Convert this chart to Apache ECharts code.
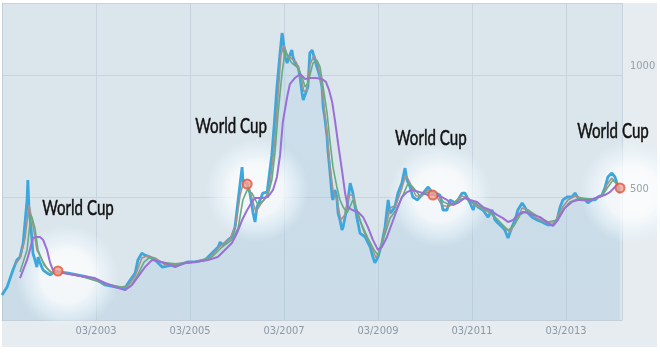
<!DOCTYPE html>
<html><head><meta charset="utf-8">
<script src="https://cdn.jsdelivr.net/npm/echarts@6/dist/echarts.min.js"></script>
<style>html,body{margin:0;padding:0;background:#fff}#c{width:660px;height:353px}</style>
</head><body><div id="c"></div>
<script>
// x values are months after 03/2001
const blueX = [0.0,1.3,2.8,3.8,4.6,5.4,6.4,6.6,6.9,7.4,7.9,8.4,8.9,9.2,9.7,10.5,11.5,12.3,13.0,14.3,16.6,19.2,21.7,24.3,26.3,28.9,31.4,32.2,34.0,34.7,35.7,36.5,37.8,39.1,40.9,43.4,44.9,47.5,49.3,51.8,52.6,55.2,55.7,56.4,57.7,58.7,59.5,60.3,61.3,61.5,62.0,62.6,63.3,64.1,64.6,65.1,65.9,66.6,67.7,68.4,68.9,69.5,70.2,71.0,71.5,71.7,72.3,72.8,73.0,74.0,74.3,74.8,75.6,76.1,76.6,76.9,77.4,78.1,78.6,79.2,79.7,80.4,81.2,81.7,82.0,82.5,83.0,83.2,83.7,84.3,84.5,85.0,85.5,85.8,86.3,86.8,87.1,88.1,88.9,89.4,89.6,90.6,91.4,92.7,94.0,94.7,95.2,96.0,97.0,97.8,98.6,99.1,99.8,100.3,101.1,102.1,102.9,103.4,104.2,104.9,106.0,106.7,107.5,108.8,109.8,110.6,111.8,112.6,113.6,114.4,115.7,116.4,117.5,118.2,118.7,119.5,120.3,120.8,121.5,122.8,124.1,125.1,125.9,126.6,127.7,128.4,129.2,130.2,131.0,131.7,132.8,133.5,134.3,135.3,136.6,137.9,139.4,140.7,141.7,142.5,143.2,144.3,145.5,146.3,147.1,148.1,148.9,149.6,150.6,151.4,152.2,153.2,154.0,154.7,155.7,156.5,157.0,157.3,157.8];
const blueY = [102,135,204,245,257,314,490,571,449,380,273,245,216,257,233,204,192,184,192,196,192,184,176,163,143,135,131,151,192,245,273,265,257,245,216,224,224,237,237,245,257,298,318,306,327,339,380,490,624,571,559,559,518,437,400,461,490,518,522,612,673,796,951,1090,1171,1155,1073,1049,1061,1102,1073,1049,1033,992,927,898,898,951,1090,1102,1073,1033,992,951,869,816,747,694,612,502,490,531,502,437,408,367,380,461,559,551,518,420,355,339,298,257,233,257,314,380,490,437,449,461,518,559,620,571,543,502,490,502,518,543,522,518,510,449,449,490,478,490,518,518,502,478,449,478,461,449,420,449,408,396,380,367,335,380,408,449,478,461,437,420,408,400,388,388,408,461,490,502,502,518,498,490,490,478,490,490,502,510,543,584,600,584,559,531,518];

const shortX = [3.3,4.6,5.9,6.9,7.4,7.9,8.9,10.2,11.5,12.8,14.8,18.6,22.5,26.3,30.1,32.2,34.0,35.7,37.0,39.1,41.6,44.9,49.3,53.1,55.7,58.2,59.7,60.8,61.8,62.8,63.8,64.8,65.9,67.4,68.4,69.7,70.5,71.2,72.0,72.8,73.8,75.1,76.1,77.1,77.9,78.6,79.7,80.7,81.4,82.2,83.0,83.7,84.5,85.5,86.5,87.5,88.6,89.6,90.9,92.4,94.0,95.5,96.5,97.8,99.1,100.6,102.1,103.1,104.2,105.7,107.2,108.8,110.5,112.3,113.9,115.7,117.4,119.0,120.5,122.5,124.6,126.6,128.4,129.7,131.2,132.8,134.3,136.1,138.6,141.2,143.0,144.5,146.3,148.8,151.4,153.2,154.4,155.7,157.0,157.8];
const shortY = [225,253,335,469,429,388,286,245,212,192,196,184,171,147,135,139,180,253,261,253,225,229,237,253,302,331,388,510,571,551,498,441,469,502,551,735,918,1082,1123,1082,1069,1053,1012,931,939,1041,1082,1041,980,878,755,633,531,490,408,429,510,510,429,359,314,253,286,367,457,469,539,592,559,506,506,531,518,469,461,482,506,498,469,457,437,408,376,359,400,457,449,420,400,400,457,490,506,494,494,506,551,580,555,531];

const midX = [4.6,6.4,7.4,7.7,8.4,9.2,10.7,12.3,14.8,19.9,25.0,30.1,32.7,34.5,36.3,37.8,40.3,44.2,49.3,53.6,56.2,58.7,60.3,61.5,62.6,63.8,65.4,66.9,67.9,68.9,69.7,70.5,71.5,72.3,73.0,74.0,75.3,76.6,77.4,78.1,79.4,80.4,81.2,82.0,83.0,83.7,84.5,85.5,86.3,87.1,88.1,88.8,89.6,90.6,91.9,93.4,95.0,96.0,97.3,99.1,100.6,102.4,103.7,104.9,106.7,108.8,110.8,112.8,114.4,116.4,118.2,120.0,122.0,124.6,127.1,129.2,130.7,132.3,134.3,136.6,139.4,141.7,143.2,145.0,147.6,150.6,153.2,154.7,156.0,157.3,157.8];
const midY = [196,286,429,416,376,286,225,196,196,180,155,135,135,180,237,257,237,229,237,257,298,327,376,490,531,518,469,490,510,571,682,845,1008,1102,1074,1049,1033,992,951,967,1049,1061,1033,951,845,735,625,543,490,461,437,461,490,449,388,335,286,265,327,416,449,510,559,543,506,522,518,482,469,490,498,482,465,441,400,367,384,429,449,425,400,408,449,482,498,494,506,543,571,551,535];

const longX = [4.6,6.4,7.1,7.9,8.7,9.7,10.5,11.5,12.3,13.0,15.6,19.9,23.7,26.3,28.9,31.4,33.2,34.7,36.5,38.3,39.8,41.6,44.2,46.7,49.3,52.6,55.1,56.9,58.7,60.0,61.3,62.6,63.8,64.6,66.4,67.9,69.2,70.2,71.0,71.7,72.8,73.5,74.8,76.1,77.4,78.6,80.2,81.7,82.7,83.5,84.3,85.0,85.8,86.8,87.6,88.3,89.4,90.9,92.2,93.4,94.7,96.0,97.0,98.3,99.6,100.8,102.1,103.4,104.7,106.7,108.8,110.5,112.3,113.6,115.1,116.4,118.2,119.5,121.3,122.8,124.6,126.4,127.9,129.2,130.5,131.7,133.0,134.3,135.6,137.4,139.4,140.7,141.9,143.7,145.5,147.0,148.8,150.6,152.2,153.9,155.2,156.5,157.3];
const longY = [171,245,286,335,339,339,327,286,233,204,192,180,171,151,135,122,143,176,216,245,241,233,216,233,237,245,257,286,314,355,408,449,482,498,498,502,531,584,674,808,910,963,988,1004,984,988,988,984,972,939,890,816,722,612,518,461,449,441,420,380,327,286,298,339,396,449,502,522,531,522,510,510,502,490,469,478,498,490,482,461,449,429,416,400,408,429,441,437,429,420,396,384,408,457,482,490,490,490,502,510,522,543,559];

// World Cup markers
const cupX = [14.3,62.6,110.0,157.8];
const cupY = [200,555,510,539];
const glowX = [16.6,65.1,111.8,160.8];
const glowY = [176,531,510,522];
const labelX = [19.4,58.5,109.5,156.0];
const labelY = [457,792,743,771];
const cupLabels = ['World Cup','World Cup','World Cup','World Cup'];

const yMax = 1294, xMax = 158.3;
const pair = (xs, ys) => xs.map((x, i) => [x, ys[i]]);

const chart = echarts.init(document.getElementById('c'), null, {renderer: 'canvas'});
const cond = "'DejaVu Sans Condensed',sans-serif";
chart.setOption({
  backgroundColor: '#ffffff',
  animation: false,
  graphic: [{id: 'band', type: 'rect', z: -10, shape: {x: 2, y: 3, width: 655, height: 344}, style: {fill: '#e6ecf0'}}],
  grid: {left: 2, top: 3, right: 38, bottom: 33, show: true, backgroundColor: '#dbe5ec', borderWidth: 0, z: 0},
  xAxis: {
    type: 'value', min: 0, max: xMax, interval: 24,
    axisLine: {show: true, lineStyle: {color: '#c3ced7', width: 1}},
    axisTick: {show: false},
    splitLine: {show: true, lineStyle: {color: '#c8d4dd', width: 1}},
    axisLabel: {showMinLabel: false, showMaxLabel: false, color: '#8d99a3', fontSize: 11, fontFamily: cond, margin: 6,
      formatter: v => '03/' + (2001 + Math.round(v / 12))}
  },
  yAxis: [{
    type: 'value', position: 'right', min: 0, max: yMax, interval: 500,
    axisLine: {show: true, lineStyle: {color: '#c3ced7'}},
    axisTick: {show: false}, axisLabel: {show: false},
    splitLine: {show: true, lineStyle: {color: '#c8d4dd', width: 1}}
  }, {
    type: 'value', position: 'right', min: 0, max: yMax, interval: 500, z: 10,
    axisLine: {show: false}, axisTick: {show: false}, splitLine: {show: false},
    axisLabel: {showMinLabel: false, showMaxLabel: false, color: '#97a2aa', fontSize: 11, fontFamily: cond,
      margin: 8, verticalAlign: 'bottom', padding: [0, 0, 3, 0], formatter: v => String(v)}
  }],
  series: [
    {type: 'line', name: 'area', data: pair(blueX, blueY), showSymbol: false, z: 1,
      lineStyle: {width: 0}, areaStyle: {color: new echarts.graphic.LinearGradient(0, 0, 0, 1, [
        {offset: 0, color: 'rgba(170,208,235,0.4)'}, {offset: 1, color: 'rgba(140,185,215,0.3)'}])}},
    {type: 'scatter', name: 'glow', data: pair(glowX, glowY), symbolSize: 104, z: 2, clip: false, silent: true,
      itemStyle: {color: new echarts.graphic.RadialGradient(0.5, 0.5, 0.5, [
        {offset: 0, color: 'rgba(255,255,255,1)'}, {offset: 0.5, color: 'rgba(255,255,255,0.95)'},
        {offset: 0.78, color: 'rgba(240,250,255,0.55)'}, {offset: 1, color: 'rgba(235,248,255,0)'}])}},
    {type: 'line', name: 'price', data: pair(blueX, blueY), showSymbol: false, z: 3,
      lineStyle: {color: '#3da6dc', width: 2.8}},
    {type: 'line', name: 'short', data: pair(shortX, shortY), showSymbol: false, z: 4,
      lineStyle: {color: '#a5928e', width: 1.6}},
    {type: 'line', name: 'mid', data: pair(midX, midY), showSymbol: false, z: 4,
      lineStyle: {color: '#66ac82', width: 1.6}},
    {type: 'line', name: 'long', data: pair(longX, longY), showSymbol: false, z: 5,
      lineStyle: {color: '#9a6fd6', width: 2}},
    {type: 'scatter', name: 'cup', data: pair(cupX, cupY), symbolSize: 9, z: 6, clip: false,
      itemStyle: {color: '#f2a292', borderColor: '#e4553f', borderWidth: 2}}
  ]
});
// World Cup annotations: placed at their data coordinates via the chart's own scales
const texts = labelX.map((x, i) => {
  const p = chart.convertToPixel({gridIndex: 0}, [x, labelY[i]]);
  return {id: 'lbl' + i, type: 'text', x: p[0], y: p[1], scaleX: 0.72, scaleY: 1, z: 100,
    style: {text: cupLabels[i], fill: '#111111', stroke: '#111111', lineWidth: 0.5,
      font: "21px Lato, 'Open Sans', sans-serif", textAlign: 'center', textVerticalAlign: 'middle'}};
});
chart.setOption({graphic: texts});
</script></body></html>
